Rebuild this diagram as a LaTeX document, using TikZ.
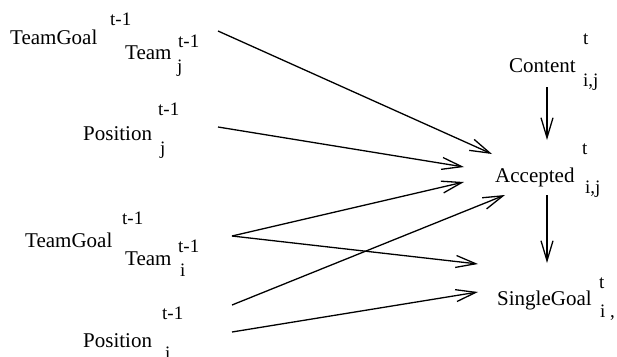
\documentclass[tikz,border=0pt]{standalone}
\usepackage{fontspec}
\setmainfont{Liberation Serif}
\usepackage{tikz}
\usetikzlibrary{arrows.meta}
\tikzset{x=1pt, y=-1pt,
	var/.style={anchor=base west, inner sep=0pt, font=\fontsize{21}{24}\selectfont},
	idx/.style={anchor=base west, inner sep=0pt, font=\fontsize{19}{22}\selectfont},
	dep/.style={draw=black, line width=1.3pt, -{Straight Barb[length=20pt, width=12pt]}}
}

\begin{document}
\begin{tikzpicture}
\useasboundingbox (0,0) rectangle (617,356);

\node (TGj) [var] at (10,44) {TeamGoal};
\node (TGj-sup) [idx] at (110,25) {t-1};
\node (TMj) [var] at (125,59) {Team};
\node (TMj-sup) [idx] at (178,47) {t-1};
\node (TMj-sub) [idx] at (177,72) {j};

\node (Pj) [var] at (83,140) {Position};
\node (Pj-sup) [idx] at (158,115) {t-1};
\node (Pj-sub) [idx] at (160,154) {j};

\node (TGi) [var] at (25,247) {TeamGoal};
\node (TGi-sup) [idx] at (122,224) {t-1};
\node (TMi) [var] at (125,265) {Team};
\node (TMi-sup) [idx] at (178,252) {t-1};
\node (TMi-sub) [idx] at (180,276) {i};

\node (Pi) [var] at (83,347) {Position};
\node (Pi-sup) [idx] at (162,319) {t-1};
\node (Pi-sub) [idx] at (165,359) {i};

\node (C) [var] at (509,72) {Content};
\node (C-sup) [idx] at (583,44) {t};
\node (C-sub) [idx] at (583,86) {i,j};

\node (A) [var] at (495,182) {Accepted};
\node (A-sup) [idx] at (582,154) {t};
\node (A-sub) [idx] at (585,193) {i,j};

\node (S) [var] at (497,305) {SingleGoal};
\node (S-sup) [idx] at (599,288) {t};
\node (S-sub) [idx] at (600,317) {i ,};

\coordinate (TGj-out) at (218,31);
\coordinate (Pj-out) at (218,127);
\coordinate (TGi-out) at (232,236);
\coordinate (Pi-out-a) at (232,305);
\coordinate (Pi-out-b) at (232,332);
\coordinate (C-out) at (547,87);
\coordinate (A-out) at (547,195);
\coordinate (A-in-1) at (492,154);
\coordinate (A-in-2) at (464,167);
\coordinate (A-in-3) at (464,182);
\coordinate (A-in-4) at (505,195);
\coordinate (A-top) at (547,140);
\coordinate (S-in-1) at (478,264);
\coordinate (S-in-2) at (478,292);
\coordinate (S-top) at (547,263);

\draw[dep] (TGj-out) -- (A-in-1);
\draw[dep] (Pj-out) -- (A-in-2);
\draw[dep] (TGi-out) -- (A-in-3);
\draw[dep] (TGi-out) -- (S-in-1);
\draw[dep] (Pi-out-a) -- (A-in-4);
\draw[dep] (Pi-out-b) -- (S-in-2);
\draw[dep] (C-out) -- (A-top);
\draw[dep] (A-out) -- (S-top);

\end{tikzpicture}
\end{document}
